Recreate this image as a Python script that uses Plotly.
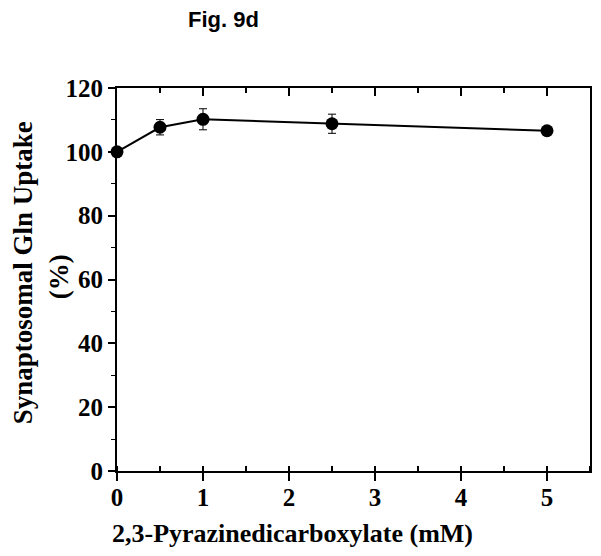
import plotly.graph_objects as go

# data
conc_mM = [0, 0.5, 1, 2.5, 5]
gln_uptake_pct = [100, 107.7, 110.2, 108.8, 106.6]
sem_pct = [0, 2.4, 3.3, 3.0, 0.8]

x_ticks = [0, 1, 2, 3, 4, 5]
y_ticks = [0, 20, 40, 60, 80, 100, 120]

serif = "Liberation Serif"
tick_font = dict(family=serif, size=25, color="black", weight="bold")

fig = go.Figure()
fig.add_trace(go.Scatter(
    x=conc_mM, y=gln_uptake_pct,
    mode="lines+markers",
    line=dict(color="black", width=2),
    marker=dict(color="black", size=13),
    error_y=dict(type="data", array=sem_pct, color="black", thickness=1, width=4),
    showlegend=False, cliponaxis=False,
))
# invisible copy so the top axis (inward ticks) gets drawn
fig.add_trace(go.Scatter(x=conc_mM, y=gln_uptake_pct, xaxis="x2", mode="none",
                         showlegend=False, hoverinfo="skip"))

fig.update_layout(
    width=585, height=540,
    margin=dict(l=109, r=1, t=80, b=77),
    paper_bgcolor="white", plot_bgcolor="white",
    xaxis=dict(range=[0, 5.5], tickvals=x_ticks, showline=True, linewidth=2, linecolor="black",
               mirror=True, ticks="outside", ticklen=8, tickwidth=2, tickcolor="black",
               ticklabelstandoff=-5,
               minor=dict(ticks="inside", dtick=0.5, tick0=0, ticklen=5, tickwidth=2, tickcolor="black"),
               showgrid=False, zeroline=False, tickfont=tick_font),
    xaxis2=dict(range=[0, 5.5], overlaying="x", side="top", tickvals=x_ticks,
                showticklabels=False, showline=False, ticks="inside", ticklen=8, tickwidth=2,
                tickcolor="black",
                minor=dict(ticks="inside", dtick=0.5, tick0=0, ticklen=5, tickwidth=2, tickcolor="black"),
                showgrid=False, zeroline=False),
    yaxis=dict(range=[0, 120], tickvals=y_ticks, showline=True, linewidth=2, linecolor="black",
               mirror=True, ticks="outside", ticklen=7, tickwidth=2, tickcolor="black",
               minor=dict(ticks="outside", dtick=10, tick0=0, ticklen=4, tickwidth=1, tickcolor="black"),
               showgrid=False, zeroline=False, tickfont=tick_font),
    annotations=[
        dict(text="Fig. 9d", xref="paper", yref="paper", x=0.225, y=1.178,
             xanchor="center", yanchor="middle", showarrow=False,
             font=dict(family="Liberation Sans", size=22, color="black", weight="bold")),
        dict(text="2,3-Pyrazinedicarboxylate (mM)", xref="paper", yref="paper", x=0.371, y=-0.162,
             xanchor="center", yanchor="middle", showarrow=False,
             font=dict(family=serif, size=26, color="black", weight="bold")),
        dict(text="Synaptosomal Gln Uptake", xref="paper", yref="paper", x=-0.198, y=0.517,
             xanchor="center", yanchor="middle", textangle=-90, showarrow=False,
             font=dict(family=serif, size=27, color="black", weight="bold")),
        dict(text="(%)", xref="paper", yref="paper", x=-0.124, y=0.507,
             xanchor="center", yanchor="middle", textangle=-90, showarrow=False,
             font=dict(family=serif, size=27, color="black", weight="bold")),
    ],
)

fig.write_html("out.html")
